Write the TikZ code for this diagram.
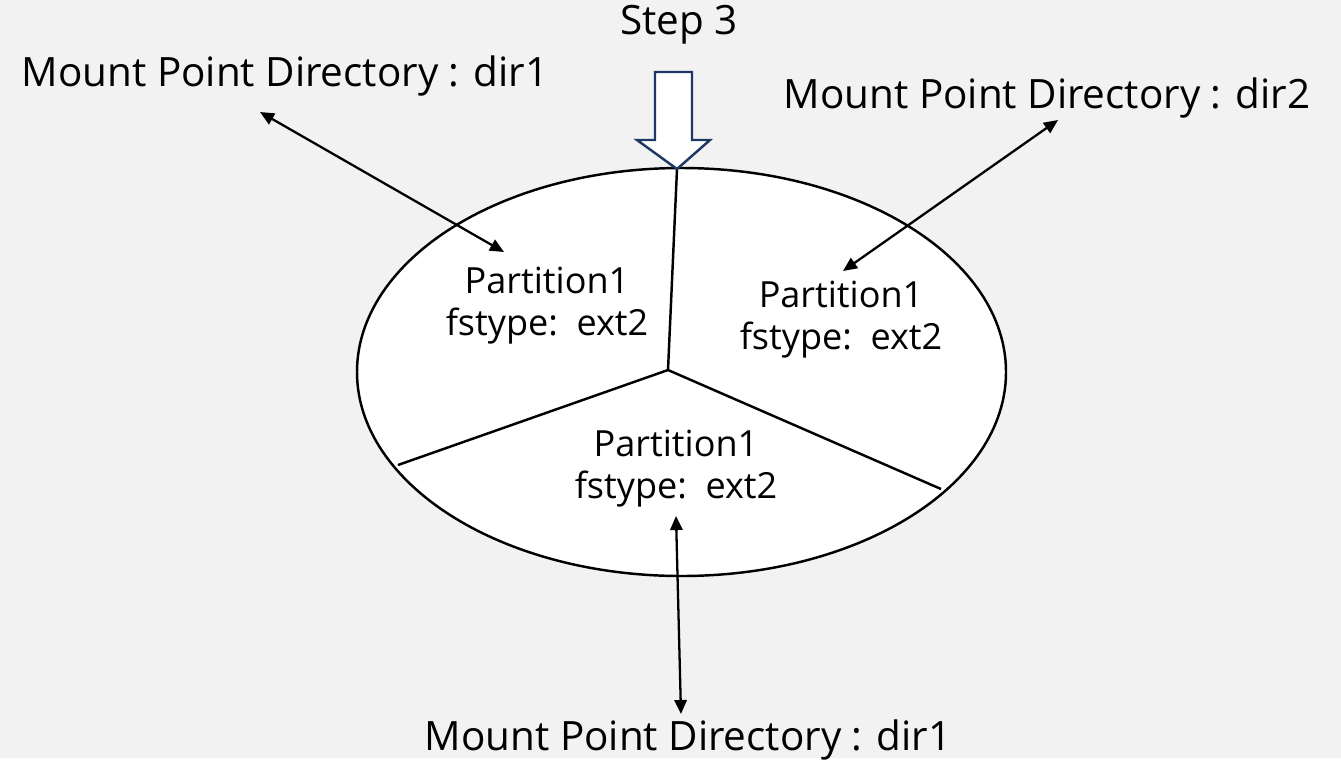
\documentclass[tikz,border=0pt]{standalone}
\usepackage{fontspec}
\setmainfont{Open Sans}
\usetikzlibrary{arrows.meta}
\definecolor{bg}{HTML}{F2F2F2}
\definecolor{navy}{HTML}{203864}

\begin{document}
\begin{tikzpicture}[x=0.02cm, y=-0.02cm,
    label/.style={font=\fontsize{23}{26}\selectfont, inner sep=0pt},
    part/.style={font=\fontsize{20.5}{24}\selectfont, align=center, inner sep=0pt},
    link/.style={line width=1.3pt, {Triangle[length=8pt,width=7pt]}-{Triangle[length=8pt,width=7pt]}}]

  \fill[bg] (0, 0) rectangle (1341, 758);

  % disk and its three partitions
  \draw[fill=white, line width=1.4pt] (681.5, 372) ellipse (324.5 and 204);
  \coordinate (mid) at (668, 370);
  \coordinate (top) at (677, 169);
  \coordinate (lft) at (398, 465);
  \coordinate (rgt) at (941, 489);
  \draw[line width=1.4pt] (mid) -- (top);
  \draw[line width=1.4pt] (mid) -- (lft);
  \draw[line width=1.4pt] (mid) -- (rgt);

  \node[part] (p1) at (547, 306) {Partition1\\fstype:\ \ ext2};
  \node[part] (p2) at (841, 320) {Partition1\\fstype:\ \ ext2};
  \node[part] (p3) at (676, 469) {Partition1\\fstype:\ \ ext2};

  % step arrow
  \node[label] (step) at (679, 25) {Step 3};
  \draw[navy, fill=white, line width=1.4pt, line join=miter]
    (655, 72) -- (692, 72) -- (692, 140) -- (710, 140) -- (top)
    -- (637, 140) -- (655, 140) -- cycle;

  % mount points
  \node[label] (m1) at (285, 76) {Mount Point Directory : dir1};
  \node[label] (m2) at (1047, 98) {Mount Point Directory : dir2};
  \node[label] (m3) at (688, 740) {Mount Point Directory : dir1};

  \coordinate (m1end) at (260, 112);
  \coordinate (p1end) at (504, 252);
  \coordinate (m2end) at (1058, 120);
  \coordinate (p2end) at (843, 271);
  \coordinate (p3end) at (676, 516);
  \coordinate (m3end) at (681, 714);

  \draw[link] (m1end) -- (p1end);
  \draw[link] (m2end) -- (p2end);
  \draw[link] (p3end) -- (m3end);

\end{tikzpicture}
\end{document}
